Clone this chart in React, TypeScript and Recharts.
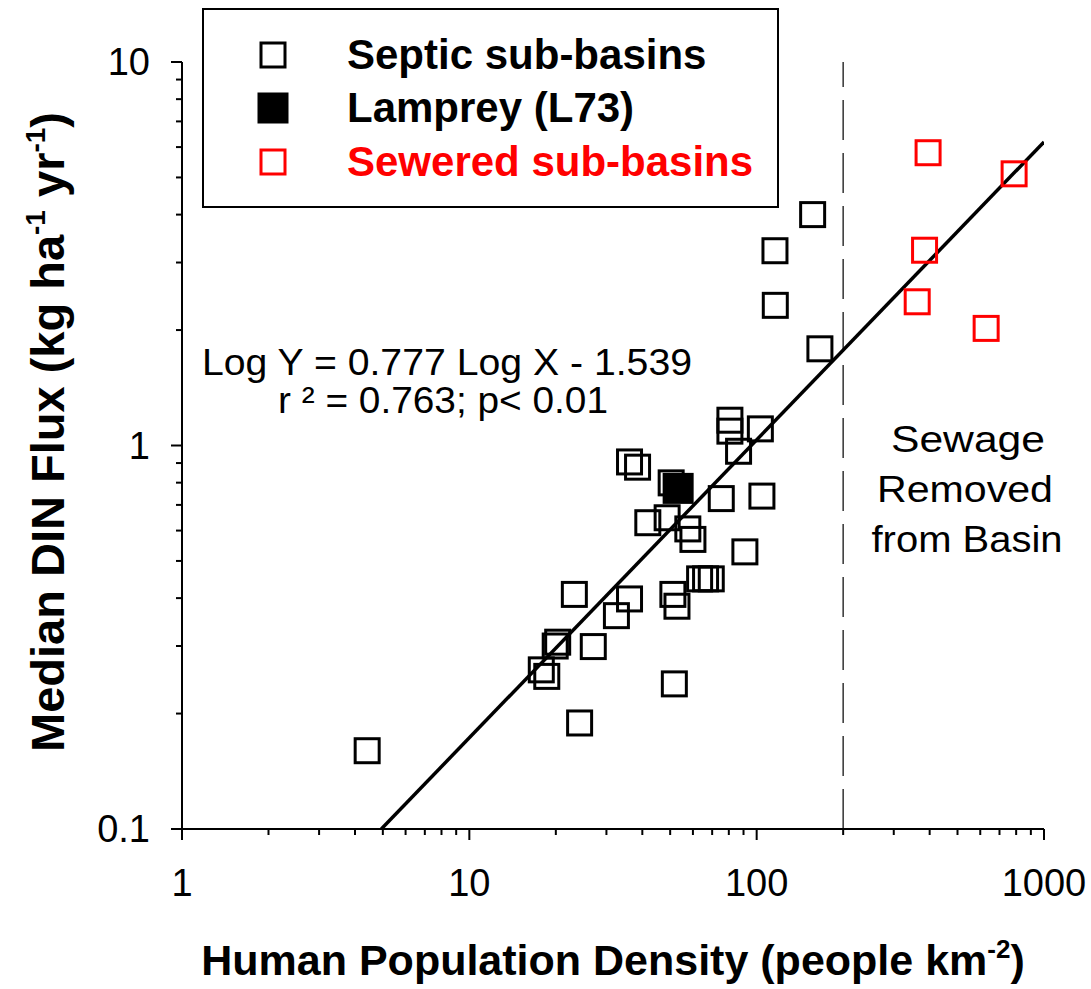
import { ReferenceLine, Scatter, ScatterChart, XAxis, YAxis } from "recharts";

const FONT = '"Liberation Sans", Arial, Helvetica, sans-serif';

// septic sub-basins (people km-2, kg ha-1 yr-1)
const septic = [
  { x: 4.41, y: 0.16 },
  { x: 24.2, y: 0.189 },
  { x: 51.7, y: 0.239 },
  { x: 17.8, y: 0.26 },
  { x: 18.6, y: 0.25 },
  { x: 19.9, y: 0.3 },
  { x: 20.3, y: 0.307 },
  { x: 27.0, y: 0.299 },
  { x: 23.2, y: 0.409 },
  { x: 32.5, y: 0.36 },
  { x: 36.1, y: 0.398 },
  { x: 51.1, y: 0.409 },
  { x: 52.8, y: 0.381 },
  { x: 63.3, y: 0.449 },
  { x: 66.4, y: 0.449 },
  { x: 69.5, y: 0.449 },
  { x: 91.0, y: 0.528 },
  { x: 41.8, y: 0.629 },
  { x: 48.8, y: 0.648 },
  { x: 57.6, y: 0.606 },
  { x: 60.0, y: 0.569 },
  { x: 75.3, y: 0.727 },
  { x: 104.3, y: 0.738 },
  { x: 50.4, y: 0.799 },
  { x: 36.1, y: 0.906 },
  { x: 38.5, y: 0.878 },
  { x: 80.7, y: 1.164 },
  { x: 80.7, y: 1.09 },
  { x: 103, y: 1.105 },
  { x: 86.5, y: 0.966 },
  { x: 156.6, y: 4.0 },
  { x: 115.8, y: 3.22 },
  { x: 116.1, y: 2.32 },
  { x: 166, y: 1.787 },
];

const lamprey = [{ x: 53.3, y: 0.773 }];

const sewered = [
  { x: 395, y: 5.8 },
  { x: 787, y: 5.11 },
  { x: 384, y: 3.23 },
  { x: 362, y: 2.37 },
  { x: 629, y: 2.02 },
];

// ends of the fitted line
const fitLine = [
  { x: 4.94, y: 0.1 },
  { x: 1000, y: 6.19 },
];

const sewageCutoff = 200;

const xMajor = [1, 10, 100, 1000];
const xMinor = [2, 3, 4, 5, 6, 7, 8, 9, 20, 30, 40, 50, 60, 70, 80, 90, 200, 300, 400, 500, 600, 700, 800, 900];
const yMajor = [0.1, 1, 10];
const yMinor = [0.2, 0.3, 0.4, 0.5, 0.6, 0.7, 0.8, 0.9, 2, 3, 4, 5, 6, 7, 8, 9];

const xTicks = [...xMajor, ...xMinor].sort((a, b) => a - b);
const yTicks = [...yMajor, ...yMinor].sort((a, b) => a - b);

function XTick({ x, y, payload }: any) {
  const major = xMajor.includes(payload.value);
  return (
    <g>
      <line x1={x} x2={x} y1={y} y2={y + (major ? 11 : 6)} stroke="#000" strokeWidth={2} />
      {major ? (
        <text x={x} y={y + 67} textAnchor="middle" fontSize={38} fontFamily={FONT} fill="#000">
          {payload.value}
        </text>
      ) : null}
    </g>
  );
}

function YTick({ x, y, payload }: any) {
  const major = yMajor.includes(payload.value);
  return (
    <g>
      <line x1={x - (major ? 11 : 6)} x2={x} y1={y} y2={y} stroke="#000" strokeWidth={2} />
      {major ? (
        <text x={x - 32} y={y + 13} textAnchor="end" fontSize={38} fontFamily={FONT} fill="#000">
          {payload.value}
        </text>
      ) : null}
    </g>
  );
}

const openSquare = (color: string) =>
  function OpenSquare(p: any) {
    return <rect x={p.cx - 12} y={p.cy - 12} width={24} height={24} fill="none" stroke={color} strokeWidth={3} />;
  };

function FilledSquare(p: any) {
  return <rect x={p.cx - 14} y={p.cy - 14} width={28} height={28} fill="#000" stroke="#000" strokeWidth={3} />;
}

export default function App() {
  return (
    <div style={{ position: "absolute", left: 0, top: 0, width: 1091, height: 989, background: "#fff" }}>
      <ScatterChart width={1091} height={989} margin={{ top: 62, right: 47, bottom: 0, left: 0 }}>
        <XAxis
          type="number"
          dataKey="x"
          scale="log"
          domain={[1, 1000]}
          ticks={xTicks}
          interval={0}
          height={160}
          tickSize={0}
          tickMargin={0}
          tickLine={false}
          axisLine={{ stroke: "#000", strokeWidth: 2 }}
          tick={<XTick />}
          allowDataOverflow
        />
        <YAxis
          type="number"
          dataKey="y"
          scale="log"
          domain={[0.1, 10]}
          ticks={yTicks}
          interval={0}
          width={182}
          tickSize={0}
          tickMargin={0}
          tickLine={false}
          axisLine={{ stroke: "#000", strokeWidth: 2 }}
          tick={<YTick />}
          allowDataOverflow
        />
        <ReferenceLine x={sewageCutoff} stroke="#333" strokeWidth={1.5} strokeDasharray="40 13" />
        <Scatter data={fitLine} line={{ stroke: "#000", strokeWidth: 3.5 }} shape={() => <g />} isAnimationActive={false} />
        <Scatter data={septic} shape={openSquare("#000")} isAnimationActive={false} />
        <Scatter data={sewered} shape={openSquare("#ff0000")} isAnimationActive={false} />
        <Scatter data={lamprey} shape={FilledSquare} isAnimationActive={false} />
      </ScatterChart>

      <svg width={1091} height={989} style={{ position: "absolute", left: 0, top: 0, pointerEvents: "none" }} fontFamily={FONT}>
        {/* legend */}
        <rect x={203} y={9} width={575} height={198} fill="#fff" stroke="#000" strokeWidth={2} />
        <rect x={261} y={43} width={24} height={24} fill="none" stroke="#000" strokeWidth={3} />
        <rect x={259} y={94} width={28} height={28} fill="#000" stroke="#000" strokeWidth={3} />
        <rect x={261} y={150} width={24} height={24} fill="none" stroke="#ff0000" strokeWidth={3} />
        <text x={347} y={69} fontSize={42} fontWeight="bold" fill="#000">Septic sub-basins</text>
        <text x={347} y={122} fontSize={42} fontWeight="bold" fill="#000">Lamprey (L73)</text>
        <text x={347} y={176} fontSize={42} fontWeight="bold" fill="#ff0000">Sewered sub-basins</text>

        {/* regression */}
        <text x={202} y={375} fontSize={37} textLength={490} lengthAdjust="spacingAndGlyphs" fill="#000">
          Log Y = 0.777 Log X - 1.539
        </text>
        <text x={278} y={413} fontSize={37} textLength={330} lengthAdjust="spacingAndGlyphs" fill="#000">
          r ² = 0.763; p&lt; 0.01
        </text>

        {/* sewage note */}
        <text x={968} y={452} fontSize={36} textAnchor="middle" textLength={154} lengthAdjust="spacingAndGlyphs" fill="#000">
          Sewage
        </text>
        <text x={965} y={502} fontSize={36} textAnchor="middle" textLength={176} lengthAdjust="spacingAndGlyphs" fill="#000">
          Removed
        </text>
        <text x={967} y={552} fontSize={36} textAnchor="middle" textLength={191} lengthAdjust="spacingAndGlyphs" fill="#000">
          from Basin
        </text>

        {/* axis titles */}
        <text x={613} y={975} fontSize={43} fontWeight="bold" textAnchor="middle" fill="#000">
          Human Population Density (people km
          <tspan fontSize={26} dy={-17}>-2</tspan>
          <tspan dy={17}>)</tspan>
        </text>
        <text x={64} y={432} fontSize={47} fontWeight="bold" textAnchor="middle" fill="#000" transform="rotate(-90 64 432)">
          Median DIN Flux (kg ha
          <tspan fontSize={28} dy={-19}>-1</tspan>
          <tspan dy={19}> yr</tspan>
          <tspan fontSize={28} dy={-19}>-1</tspan>
          <tspan dy={19}>)</tspan>
        </text>
      </svg>
    </div>
  );
}
